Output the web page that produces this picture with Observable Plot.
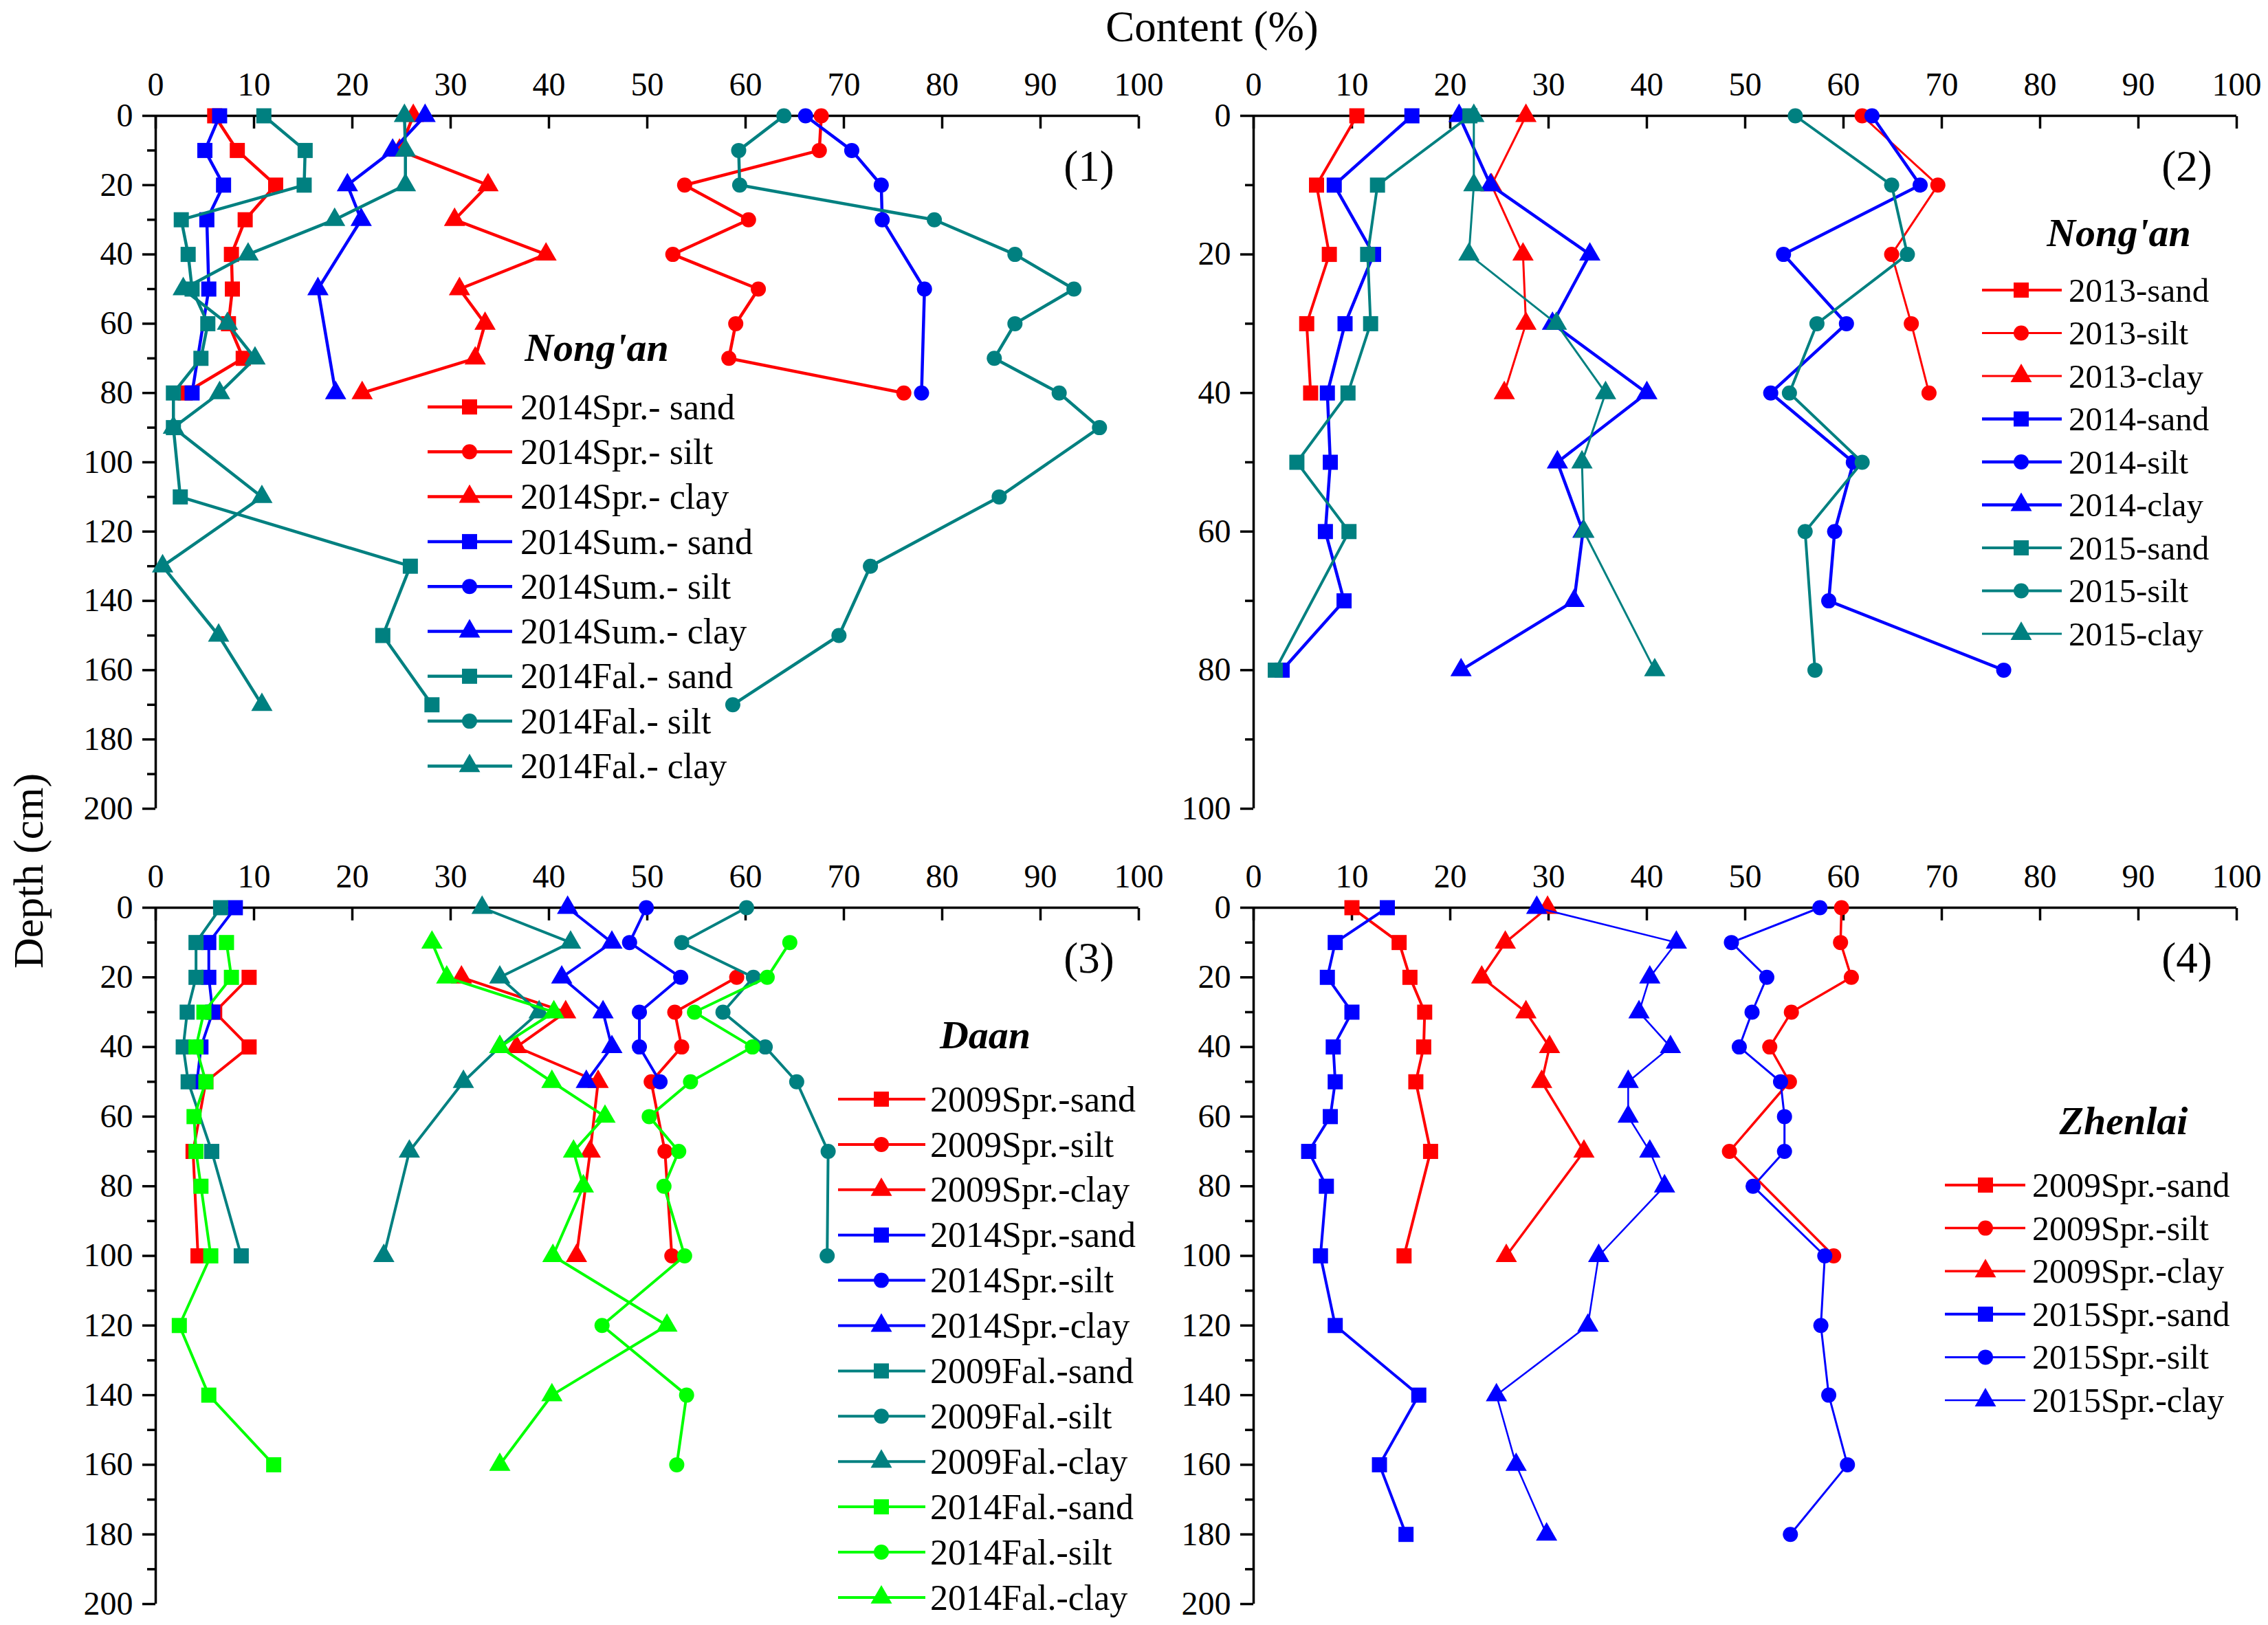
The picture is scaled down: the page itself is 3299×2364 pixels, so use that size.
<!DOCTYPE html>
<html>
<head>
<meta charset="utf-8">
<script src="https://cdn.jsdelivr.net/npm/d3@7"></script>
<script src="https://cdn.jsdelivr.net/npm/@observablehq/plot@0.6"></script>
<style>
  html, body { margin: 0; padding: 0; background: #fff; }
  #wrap { position: relative; width: 3299px; height: 2364px; overflow: hidden; background: #fff;
          font-family: "Liberation Serif", Tinos, "DejaVu Serif", serif; }
  #wrap > svg { position: absolute; }
  #wrap svg, #wrap svg text { font-family: "Liberation Serif", Tinos, "DejaVu Serif", serif !important; }
</style>
</head>
<body>
<div id="wrap"></div>
<script>
// ---------------- DATA ----------------
const xTicks = [0, 10, 20, 30, 40, 50, 60, 70, 80, 90, 100];

// Panel (1) Nong'an 2014
const p1SprDepth = [0, 10, 20, 30, 40, 50, 60, 70, 80];
const p1SprSand  = [6.0, 8.3, 12.2, 9.1, 7.7, 7.8, 7.4, 8.9, 3.0];
const p1SprSilt  = [67.7, 67.5, 53.8, 60.3, 52.6, 61.3, 59.0, 58.3, 76.1];
const p1SprClay  = [26.2, 24.8, 33.8, 30.4, 39.7, 30.9, 33.5, 32.5, 21.0];
const p1SumDepth = [0, 10, 20, 30, 50, 80];
const p1SumSand  = [6.5, 5.0, 6.9, 5.2, 5.4, 3.7];
const p1SumSilt  = [66.1, 70.8, 73.8, 73.9, 78.2, 77.9];
const p1SumClay  = [27.4, 24.1, 19.5, 20.9, 16.5, 18.3];
const p1FalDepth = [0, 10, 20, 30, 40, 50, 60, 70, 80, 90, 110, 130, 150, 170];
const p1FalSand  = [11.0, 15.2, 15.1, 2.6, 3.3, 3.7, 5.3, 4.6, 1.8, 1.8, 2.5, 25.9, 23.1, 28.1];
const p1FalSilt  = [63.9, 59.3, 59.4, 79.2, 87.4, 93.4, 87.4, 85.3, 91.9, 96.0, 85.8, 72.7, 69.5, 58.7];
const p1FalClay  = [25.3, 25.4, 25.4, 18.2, 9.4, 2.8, 7.3, 10.1, 6.5, 1.8, 10.8, 0.7, 6.4, 10.8];

// Panel (2) Nong'an 2013-2015
const p2Depth13 = [0, 10, 20, 30, 40];
const p2Sand13  = [10.5, 6.4, 7.7, 5.4, 5.8];
const p2Silt13  = [61.9, 69.6, 64.9, 66.9, 68.7];
const p2Clay13  = [27.7, 24.2, 27.4, 27.7, 25.5];
const p2Depth14 = [0, 10, 20, 30, 40, 50, 60, 70, 80];
const p2Sand14  = [16.1, 8.2, 12.2, 9.3, 7.5, 7.8, 7.3, 9.2, 2.9];
const p2Silt14  = [62.9, 67.8, 53.9, 60.3, 52.6, 61.0, 59.1, 58.5, 76.3];
const p2Clay14  = [20.9, 24.1, 34.2, 30.4, 40.0, 30.9, 33.5, 32.6, 21.1];
const p2Depth15 = [0, 10, 20, 30, 40, 50, 60, 80];
const p2Sand15  = [22.0, 12.6, 11.6, 11.9, 9.6, 4.4, 9.7, 2.2];
const p2Silt15  = [55.1, 64.9, 66.5, 57.3, 54.5, 61.9, 56.1, 57.1];
const p2Clay15  = [22.4, 22.4, 21.9, 30.8, 35.8, 33.4, 33.6, 40.8];

// Panel (3) Daan
const p3Spr09Depth = [20, 30, 40, 50, 70, 100];
const p3Spr09Sand  = [9.5, 6.0, 9.5, 5.1, 3.8, 4.3];
const p3Spr09Silt  = [59.1, 52.8, 53.5, 50.4, 51.8, 52.5];
const p3Spr09Clay  = [31.1, 41.7, 36.7, 45.0, 44.2, 42.8];
const p3Spr14Depth = [0, 10, 20, 30, 40, 50];
const p3Spr14Sand  = [8.1, 5.4, 5.4, 5.8, 4.6, 4.2];
const p3Spr14Silt  = [49.9, 48.2, 53.4, 49.2, 49.2, 51.3];
const p3Spr14Clay  = [41.9, 46.4, 41.3, 45.5, 46.4, 43.8];
const p3Fal09Depth = [0, 10, 20, 30, 40, 50, 70, 100];
const p3Fal09Sand  = [6.6, 4.1, 4.1, 3.2, 2.8, 3.3, 5.7, 8.7];
const p3Fal09Silt  = [60.1, 53.5, 60.8, 57.7, 62.0, 65.2, 68.4, 68.3];
const p3Fal09Clay  = [33.2, 42.2, 35.0, 39.0, 35.0, 31.3, 25.8, 23.2];
const p3Fal14Depth = [10, 20, 30, 40, 50, 60, 70, 80, 100, 120, 140, 160];
const p3Fal14Sand  = [7.2, 7.7, 4.9, 4.1, 5.1, 3.9, 4.1, 4.6, 5.6, 2.4, 5.4, 12.0];
const p3Fal14Silt  = [64.5, 62.2, 54.8, 60.7, 54.4, 50.2, 53.2, 51.7, 53.8, 45.4, 54.0, 53.0];
const p3Fal14Clay  = [28.1, 29.6, 40.5, 35.0, 40.3, 45.7, 42.5, 43.5, 40.4, 52.0, 40.3, 35.0];

// Panel (4) Zhenlai
const p4Spr09Depth = [0, 10, 20, 30, 40, 50, 70, 100];
const p4Spr09Sand  = [10.0, 14.8, 15.9, 17.4, 17.3, 16.5, 18.0, 15.3];
const p4Spr09Silt  = [59.8, 59.7, 60.8, 54.7, 52.5, 54.5, 48.4, 59.0];
const p4Spr09Clay  = [29.9, 25.6, 23.2, 27.7, 30.1, 29.3, 33.6, 25.7];
const p4Spr15Depth = [0, 10, 20, 30, 40, 50, 60, 70, 80, 100, 120, 140, 160, 180];
const p4Spr15Sand  = [13.6, 8.3, 7.5, 10.0, 8.1, 8.3, 7.8, 5.6, 7.4, 6.8, 8.3, 16.8, 12.8, 15.5];
const p4Spr15Silt  = [57.6, 48.6, 52.2, 50.7, 49.4, 53.6, 54.0, 54.0, 50.8, 58.1, 57.7, 58.5, 60.4, 54.6];
const p4Spr15Clay  = [28.8, 43.0, 40.3, 39.2, 42.4, 38.1, 38.1, 40.3, 41.8, 35.1, 34.0, 24.7, 26.7, 29.8];

// ---------------- STYLE / LAYOUT ----------------
const RED = "#ff0000", BLUE = "#0000ff", TEAL = "#008080", GREEN = "#00ff00";
const FONT = '"Liberation Serif", Tinos, "DejaVu Serif", serif';
const S = (name, color, symbol, depth, values, w) => ({name, color, symbol, depth, values, w});

const panels = [
  { tag: "(1)", site: "Nong'an", ymax: 200, left: 0, top: 0, frameTop: 168, frameH: 1008,
    legend: {titleX: 868, titleY: 525, y0: 592, dy: 65.3, x1: 622, x2: 745, xm: 683, xt: 757, fs: 52},
    series: [
      S("2014Spr.- sand", RED, "square", p1SprDepth, p1SprSand, 4.5),
      S("2014Spr.- silt", RED, "circle", p1SprDepth, p1SprSilt, 4.5),
      S("2014Spr.- clay", RED, "triangle", p1SprDepth, p1SprClay, 4.5),
      S("2014Sum.- sand", BLUE, "square", p1SumDepth, p1SumSand, 4.5),
      S("2014Sum.- silt", BLUE, "circle", p1SumDepth, p1SumSilt, 4.5),
      S("2014Sum.- clay", BLUE, "triangle", p1SumDepth, p1SumClay, 4.5),
      S("2014Fal.- sand", TEAL, "square", p1FalDepth, p1FalSand, 4.5),
      S("2014Fal.- silt", TEAL, "circle", p1FalDepth, p1FalSilt, 4.5),
      S("2014Fal.- clay", TEAL, "triangle", p1FalDepth, p1FalClay, 4.5)
    ]},
  { tag: "(2)", site: "Nong'an", ymax: 100, left: 1597, top: 0, frameTop: 168, frameH: 1008,
    legend: {titleX: 3082, titleY: 358, y0: 422, dy: 62.5, x1: 2883, x2: 2999, xm: 2940, xt: 3009, fs: 49},
    series: [
      S("2013-sand", RED, "square", p2Depth13, p2Sand13, 4),
      S("2013-silt", RED, "circle", p2Depth13, p2Silt13, 3),
      S("2013-clay", RED, "triangle", p2Depth13, p2Clay13, 3),
      S("2014-sand", BLUE, "square", p2Depth14, p2Sand14, 4.5),
      S("2014-silt", BLUE, "circle", p2Depth14, p2Silt14, 4.5),
      S("2014-clay", BLUE, "triangle", p2Depth14, p2Clay14, 4.5),
      S("2015-sand", TEAL, "square", p2Depth15, p2Sand15, 4),
      S("2015-silt", TEAL, "circle", p2Depth15, p2Silt15, 4),
      S("2015-clay", TEAL, "triangle", p2Depth15, p2Clay15, 3)
    ]},
  { tag: "(3)", site: "Daan", ymax: 200, left: 0, top: 1152, frameTop: 168, frameH: 1013,
    legend: {titleX: 1433, titleY: 1525, y0: 1599, dy: 65.9, x1: 1219, x2: 1346, xm: 1282, xt: 1353, fs: 52},
    series: [
      S("2009Spr.-sand", RED, "square", p3Spr09Depth, p3Spr09Sand, 4),
      S("2009Spr.-silt", RED, "circle", p3Spr09Depth, p3Spr09Silt, 4),
      S("2009Spr.-clay", RED, "triangle", p3Spr09Depth, p3Spr09Clay, 4),
      S("2014Spr.-sand", BLUE, "square", p3Spr14Depth, p3Spr14Sand, 4),
      S("2014Spr.-silt", BLUE, "circle", p3Spr14Depth, p3Spr14Silt, 4),
      S("2014Spr.-clay", BLUE, "triangle", p3Spr14Depth, p3Spr14Clay, 4),
      S("2009Fal.-sand", TEAL, "square", p3Fal09Depth, p3Fal09Sand, 4),
      S("2009Fal.-silt", TEAL, "circle", p3Fal09Depth, p3Fal09Silt, 4),
      S("2009Fal.-clay", TEAL, "triangle", p3Fal09Depth, p3Fal09Clay, 4),
      S("2014Fal.-sand", GREEN, "square", p3Fal14Depth, p3Fal14Sand, 4),
      S("2014Fal.-silt", GREEN, "circle", p3Fal14Depth, p3Fal14Silt, 4),
      S("2014Fal.-clay", GREEN, "triangle", p3Fal14Depth, p3Fal14Clay, 4)
    ]},
  { tag: "(4)", site: "Zhenlai", ymax: 200, left: 1597, top: 1152, frameTop: 168, frameH: 1013,
    legend: {titleX: 3089, titleY: 1650, y0: 1724, dy: 62.6, x1: 2829, x2: 2946, xm: 2888, xt: 2956, fs: 50},
    series: [
      S("2009Spr.-sand", RED, "square", p4Spr09Depth, p4Spr09Sand, 4),
      S("2009Spr.-silt", RED, "circle", p4Spr09Depth, p4Spr09Silt, 3.5),
      S("2009Spr.-clay", RED, "triangle", p4Spr09Depth, p4Spr09Clay, 3.5),
      S("2015Spr.-sand", BLUE, "square", p4Spr15Depth, p4Spr15Sand, 4),
      S("2015Spr.-silt", BLUE, "circle", p4Spr15Depth, p4Spr15Silt, 3),
      S("2015Spr.-clay", BLUE, "triangle", p4Spr15Depth, p4Spr15Clay, 2.5)
    ]}
];

const R = {square: 12.4, circle: 11, triangle: 11.5};
const MARGIN_L = 226, FRAME_W = 1430, MARGIN_R = 40, MARGIN_B = 30;

const wrap = document.getElementById("wrap");

function makePanel(p) {
  const majorY = d3.range(0, p.ymax + 1, 20);
  const minorY = d3.range(10, p.ymax, 20);
  const marks = [
    Plot.axisX({anchor: "top", ticks: xTicks, tickSize: -18, tickFormat: () => "", strokeWidth: 3.5, label: null}),
    Plot.axisX({anchor: "top", ticks: xTicks, tickSize: 0, tickPadding: 30, fontSize: 48, fontFamily: FONT, label: null}),
    Plot.axisY({anchor: "left", ticks: majorY, tickSize: 19, tickPadding: 14, strokeWidth: 3.5, fontSize: 48, fontFamily: FONT, label: null}),
    Plot.axisY({anchor: "left", ticks: minorY, tickSize: 12, tickFormat: () => "", strokeWidth: 3.5, label: null}),
    Plot.ruleY([0], {stroke: "#000", strokeWidth: 3.5}),
    Plot.ruleX([0], {stroke: "#000", strokeWidth: 3.5})
  ];
  for (const s of p.series) {
    const data = s.depth.map((d, i) => ({d, v: s.values[i]}));
    marks.push(Plot.line(data, {x: "v", y: "d", stroke: s.color, strokeWidth: s.w}));
    marks.push(Plot.dot(data, {x: "v", y: "d", fill: s.color, stroke: "none", symbol: s.symbol, r: R[s.symbol]}));
  }
  const svg = Plot.plot({
    width: MARGIN_L + FRAME_W + MARGIN_R,
    height: p.frameTop + p.frameH + MARGIN_B,
    marginLeft: MARGIN_L, marginRight: MARGIN_R, marginTop: p.frameTop, marginBottom: MARGIN_B,
    x: {domain: [0, 100]},
    y: {domain: [0, p.ymax], reverse: true},
    style: {background: "transparent", fontFamily: FONT, fontSize: "48px", color: "#000", overflow: "visible"},
    marks
  });
  svg.style.left = p.left + "px";
  svg.style.top = p.top + "px";
  svg.style.position = "absolute";
  wrap.appendChild(svg);
}
panels.forEach(makePanel);

// ---------------- OVERLAY: titles, panel tags, legends ----------------
const ov = d3.select(wrap).append("svg")
  .attr("width", 3299).attr("height", 2364)
  .style("left", "0px").style("top", "0px").style("position", "absolute")
  .style("pointer-events", "none")
  .style("font-family", FONT);

ov.append("text").attr("x", 1763).attr("y", 60).attr("text-anchor", "middle")
  .attr("font-size", 63).text("Content (%)");
ov.append("text").attr("transform", "translate(62,1267) rotate(-90)").attr("text-anchor", "middle")
  .attr("font-size", 62).text("Depth (cm)");

const symMap = {square: d3.symbolSquare, circle: d3.symbolCircle, triangle: d3.symbolTriangle};

panels.forEach(p => {
  const tagX = p.left + MARGIN_L + 1358;
  const tagY = p.top + p.frameTop + 73;
  ov.append("text").attr("x", tagX).attr("y", tagY).attr("dy", "0.35em")
    .attr("text-anchor", "middle").attr("font-size", 63).text(p.tag);
  const L = p.legend;
  ov.append("text").attr("x", L.titleX).attr("y", L.titleY).attr("text-anchor", "middle")
    .attr("font-size", 58).attr("font-weight", "bold").attr("font-style", "italic").text(p.site);
  p.series.forEach((s, i) => {
    const y = L.y0 + i * L.dy;
    const g = ov.append("g");
    g.append("line").attr("x1", L.x1).attr("x2", L.x2).attr("y1", y).attr("y2", y)
      .attr("stroke", s.color).attr("stroke-width", s.w);
    g.append("path").attr("transform", `translate(${L.xm},${y})`)
      .attr("d", d3.symbol(symMap[s.symbol], Math.PI * R[s.symbol] * R[s.symbol])())
      .attr("fill", s.color);
    g.append("text").attr("x", L.xt).attr("y", y).attr("dy", "0.34em")
      .attr("font-size", L.fs).text(s.name);
  });
});
</script>
</body>
</html>
